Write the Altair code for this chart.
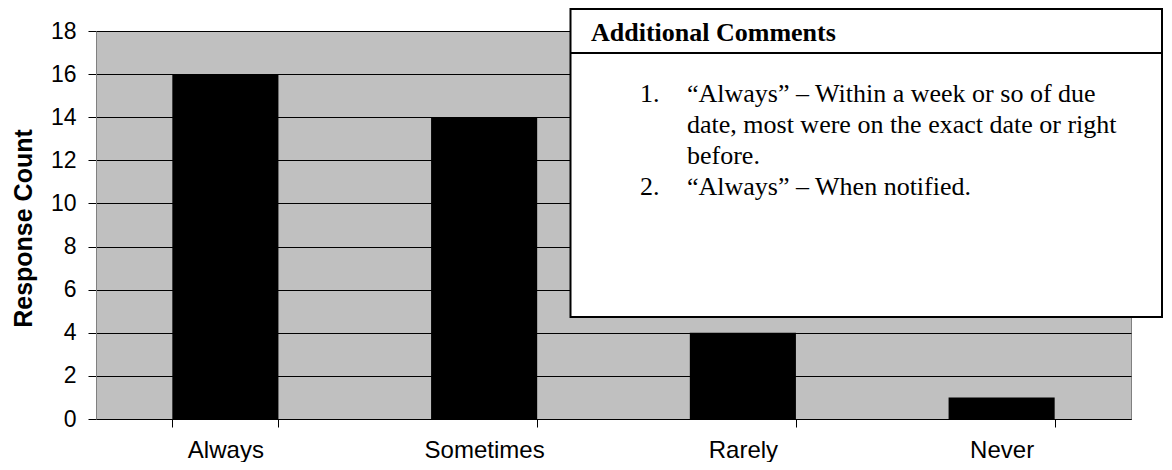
import altair as alt
import pandas as pd

categories = ["Always", "Sometimes", "Rarely", "Never"]
counts = [16, 14, 4, 1]
y_ticks = [0, 2, 4, 6, 8, 10, 12, 14, 16, 18]
y_title = "Response Count"

comment_header = "Additional Comments"
comment_numbers = ["1.", "2."]
comment_items = [
    [
        "\u201cAlways\u201d \u2013 Within a week or so of due",
        "date, most were on the exact date or right",
        "before.",
    ],
    ["\u201cAlways\u201d \u2013 When notified."],
]

W, H = 1035, 388
SANS = "Liberation Sans"
SERIF = "Liberation Serif"
LINE_H = 31
LIST_TOP = 71

df = pd.DataFrame({"cat": categories, "count": counts})
one = pd.DataFrame({"k": [0]})

bars = alt.Chart(df).mark_bar(color="#000000").encode(
    x=alt.X(
        "cat:N",
        sort=categories,
        scale=alt.Scale(paddingInner=0.59, paddingOuter=0.295),
        axis=alt.Axis(
            title=None,
            labelAngle=0,
            labelFont=SANS,
            labelFontSize=24,
            labelColor="#000000",
            labelPadding=11,
            tickBand="extent",
            tickSize=8,
            tickColor="#000000",
            domainColor="#000000",
            grid=False,
        ),
    ),
    y=alt.Y(
        "count:Q",
        scale=alt.Scale(domain=[0, 18], nice=False),
        axis=alt.Axis(
            values=y_ticks,
            title=y_title,
            titleFont=SANS,
            titleFontSize=25,
            titleFontWeight="bold",
            titleColor="#000000",
            titleAngle=-90,
            titleBaseline="alphabetic",
            titleAlign="center",
            titleX=-65,
            titleY=197,
            labelFont=SANS,
            labelFontSize=23,
            labelColor="#000000",
            labelPadding=12,
            tickSize=8,
            tickColor="#000000",
            domainColor="#808080",
            grid=True,
            gridColor="#000000",
            gridWidth=1,
        ),
    ),
)

box = alt.Chart(one).mark_rect(
    fill="#ffffff", stroke="#000000", strokeWidth=2
).encode(
    x=alt.value(474.5), x2=alt.value(1066), y=alt.value(-22), y2=alt.value(286)
)

divider = alt.Chart(one).mark_rule(color="#000000", strokeWidth=2).encode(
    x=alt.value(474.5), x2=alt.value(1066), y=alt.value(22)
)

header = alt.Chart(one).mark_text(
    text=comment_header,
    font=SERIF,
    fontSize=26,
    fontWeight="bold",
    align="left",
    baseline="alphabetic",
    color="#000000",
).encode(x=alt.value(495), y=alt.value(10))

layers = [bars, box, divider, header]
line_index = 0
for num, item in zip(comment_numbers, comment_items):
    y_pos = LIST_TOP + line_index * LINE_H
    layers.append(
        alt.Chart(one).mark_text(
            text=num, font=SERIF, fontSize=26, align="left",
            baseline="alphabetic", color="#000000",
        ).encode(x=alt.value(544), y=alt.value(y_pos))
    )
    layers.append(
        alt.Chart(one).mark_text(
            text=item, font=SERIF, fontSize=26, lineHeight=LINE_H, align="left",
            baseline="alphabetic", color="#000000",
        ).encode(x=alt.value(591), y=alt.value(y_pos))
    )
    line_index += len(item)

chart = (
    alt.layer(*layers)
    .properties(
        width=W,
        height=H,
        autosize=alt.AutoSizeParams(type="none"),
        padding={"left": 88, "top": 23, "right": 33, "bottom": 43},
        background="#ffffff",
    )
    .configure_view(fill="#C0C0C0", stroke="#808080", strokeWidth=1)
)

chart.save("out.html", embed_options={"renderer": "svg", "actions": False})
